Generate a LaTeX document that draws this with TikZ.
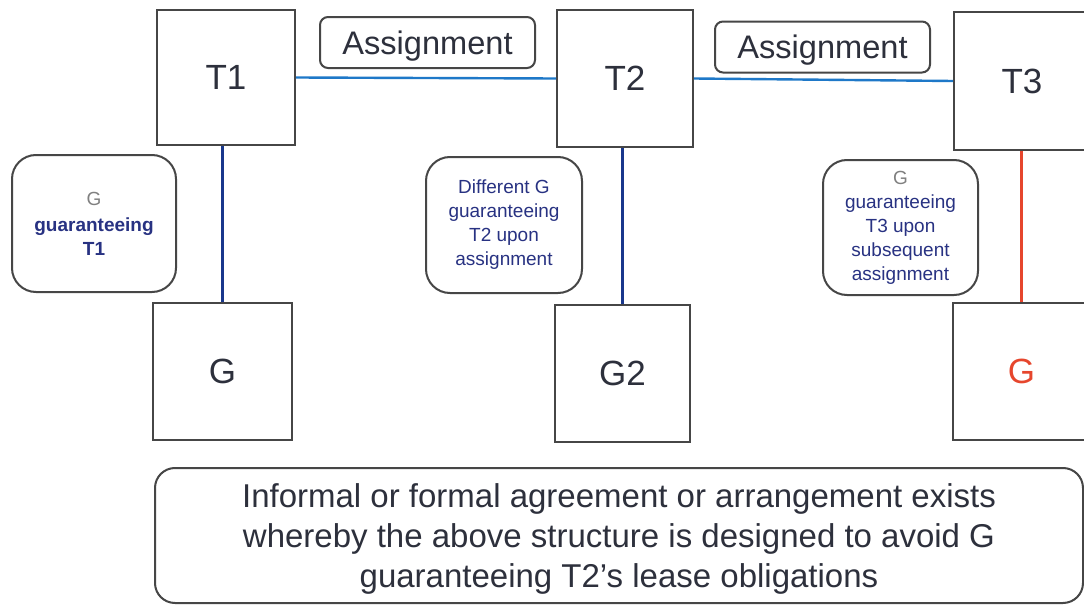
\documentclass[tikz,border=0pt]{standalone}
\usepackage{fontspec}
\setmainfont{Liberation Sans}
\definecolor{frame}{RGB}{70,70,70}
\definecolor{txt}{RGB}{45,48,60}
\definecolor{hblue}{RGB}{30,120,200}
\definecolor{vblue}{RGB}{25,55,140}
\definecolor{navytxt}{RGB}{40,50,130}
\definecolor{gred}{RGB}{230,70,45}
\begin{document}
\begin{tikzpicture}[x=0.5pt,y=-0.5pt,
  party/.style={draw=frame,line width=1pt,fill=white,inner sep=0pt,font=\fontsize{17.5}{20}\selectfont,text=txt},
  assign/.style={draw=frame,line width=1pt,fill=white,rounded corners=4pt,inner sep=0pt,minimum width=107.5pt,minimum height=25.5pt,text depth=0pt,font=\fontsize{16.3}{18}\selectfont,text=txt},
  sidebox/.style={draw=frame,line width=1pt,fill=white,rounded corners=12pt,inner sep=0pt,align=center,font=\fontsize{9.5}{12}\selectfont,text=navytxt},
  link/.style={line width=1.2pt}]
\useasboundingbox (0,0) rectangle (1084,605);
\fill[white] (0,0) rectangle (1084,605);
% parties
\node[party,minimum width=69pt,minimum height=67.5pt] (T1) at (226,77.5) {T1};
\node[party,minimum width=68pt,minimum height=68.5pt] (T2) at (625,78.5) {T2};
\node[party,minimum width=68pt,minimum height=69pt] (T3) at (1022,81) {T3};
\node[party,minimum width=69.5pt,minimum height=68.5pt] (G1) at (222.5,371.5) {G};
\node[party,minimum width=67.5pt,minimum height=68.5pt] (G2) at (622.5,373.5) {G2};
\node[party,minimum width=68.5pt,minimum height=68.5pt,text=gred] (G3) at (1021.5,371.5) {G};
% assignment labels
\node[assign] (A1) at (427.5,42.5) {Assignment};
\node[assign] (A2) at (822.5,47) {Assignment};
% side boxes
\node[sidebox,minimum width=82pt,minimum height=68.5pt] (S1) at (94,223.5)
  {{\color{gray}G}\\[1pt]\textbf{guaranteeing}\\\textbf{T1}};
\node[sidebox,minimum width=78pt,minimum height=68pt] (S2) at (504,225)
  {Different G\\guaranteeing\\T2 upon\\assignment};
\node[sidebox,minimum width=77.5pt,minimum height=67.5pt] (S3) at (900.5,227.5)
  {{\color{gray}G}\\guaranteeing\\T3 upon\\subsequent\\assignment};
% bottom box
\node[draw=frame,line width=1pt,fill=white,rounded corners=10pt,minimum width=464pt,minimum height=67.5pt,align=center,
  text depth=0pt,font=\fontsize{16.5}{20}\selectfont,text=txt] (B) at (619,535.5)
  {Informal or formal agreement or arrangement exists\\whereby the above structure is designed to avoid G\\guaranteeing T2's lease obligations};
% connectors
\draw[link,hblue] (T1.east) -- (T2.west);
\draw[link,hblue] (T2.east) -- (T3.west);
\draw[link,vblue] (T1.south -| G1.north) -- (G1.north);
\draw[link,vblue] (T2.south -| G2.north) -- (G2.north);
\draw[link,gred] (T3.south -| G3.north) -- (G3.north);
\end{tikzpicture}
\end{document}
